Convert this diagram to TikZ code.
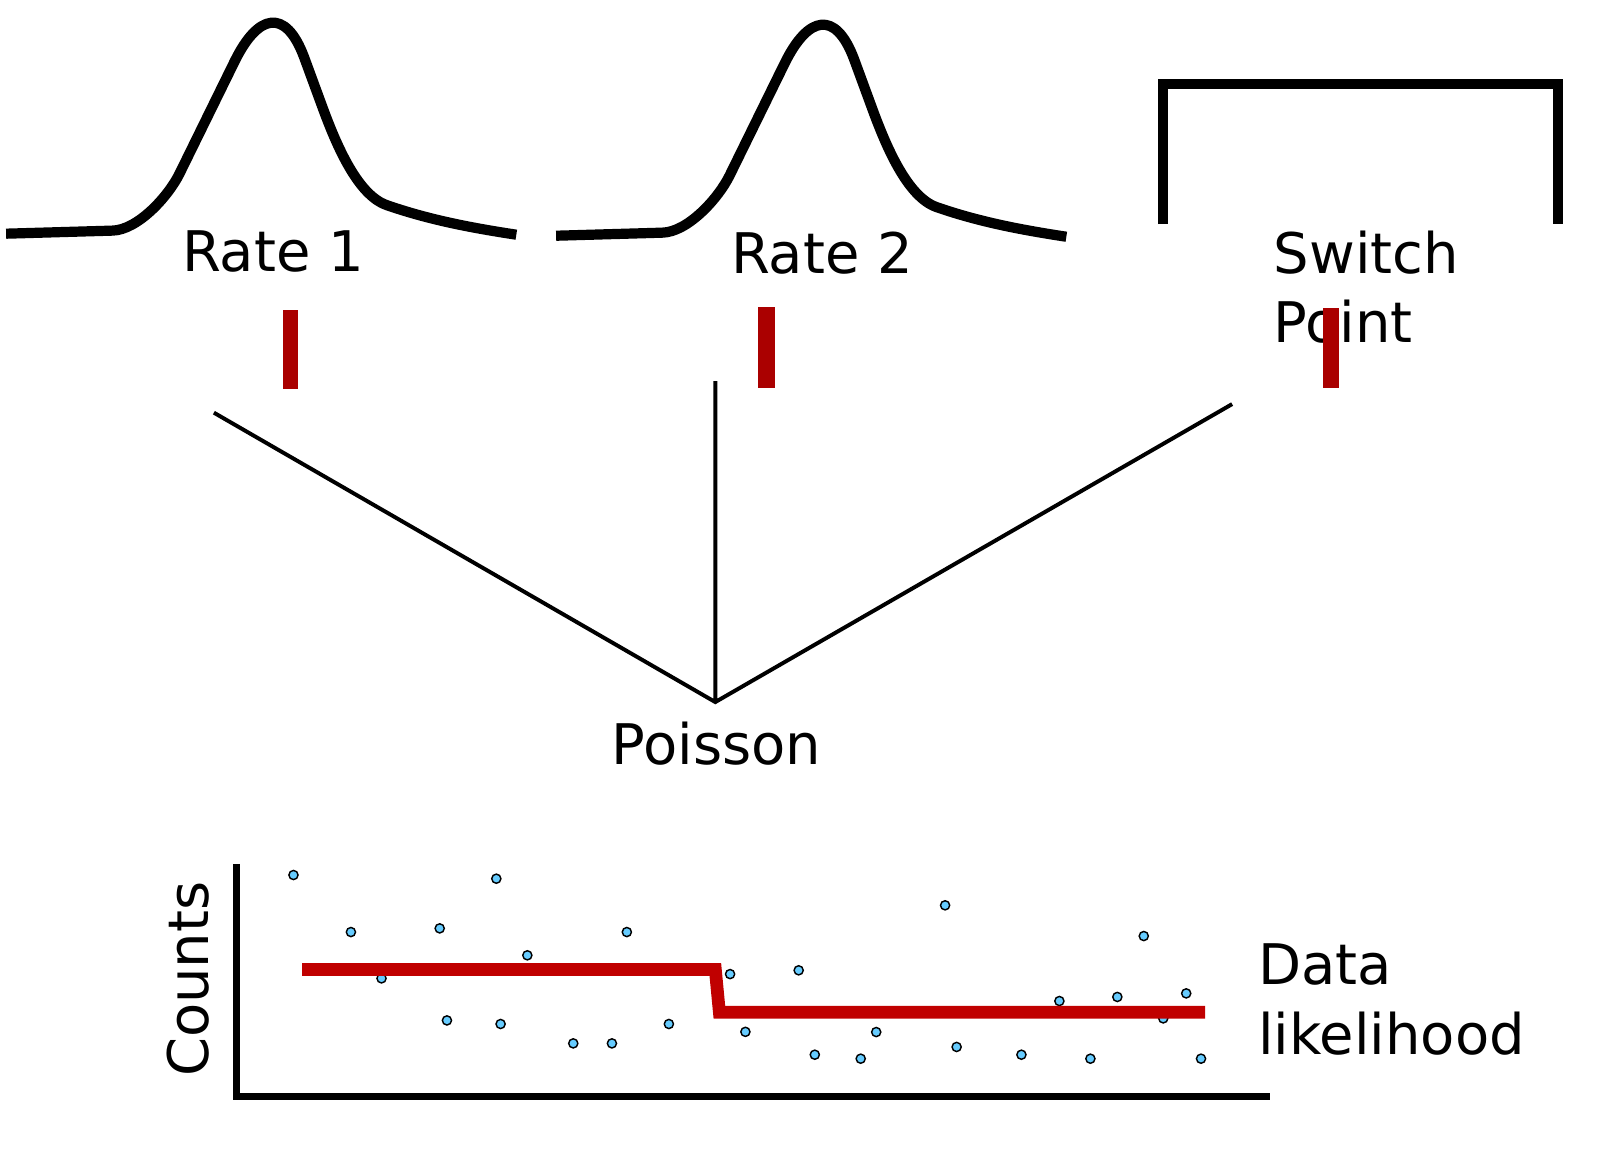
\documentclass[tikz,border=0pt]{standalone}
\usepackage{fontspec}
\setmainfont{DejaVu Sans}
\definecolor{barred}{RGB}{170,0,0}
\definecolor{stepred}{RGB}{192,0,0}
\definecolor{dotblue}{RGB}{102,204,255}

\begin{document}
\begin{tikzpicture}[x=0.01cm,y=-0.01cm,
                    every node/.style={inner sep=0pt,font=\fontsize{15.6}{19.3}\selectfont},
                    prior/.style={line width=0.1cm,line join=round},
                    link/.style={line width=1.1pt},
                    sample/.style={fill=barred},
                    axis/.style={line width=0.07cm,line join=miter},
                    rateline/.style={draw=stepred,line width=0.125cm,line join=miter},
                    obs/.style={draw=black,fill=dotblue,line width=0.4pt}]
    \useasboundingbox (0,0) rectangle (1568,1138);

    % priors
    \foreach \dx/\dy in {0/0,539/2}
        \draw[prior,shift={(\dx,\dy)}] (6,229) -- (110,226)
            .. controls (135,225.5) and (165,192.4) .. (176,170) -- (230,60)
            .. controls (252.9,13.4) and (279.8,7.3) .. (298,56) -- (316,105)
            .. controls (329.8,142.6) and (350.6,191.2) .. (379,201)
            .. controls (419.6,215.1) and (460,223) .. (506,230);
    \draw[prior,line join=miter] (1140,219.6) -- (1140,82) -- (1527,82) -- (1527,219.6);

    \node (rate1)  at (267.5,266) [anchor=base] {Rate 1};
    \node (rate2)  at (805.5,268) [anchor=base] {Rate 2};
    \node (switch) at (1247.5,336) [anchor=base west,align=left] {Switch\\Point};

    % samples
    \fill[sample] (277,304) rectangle (292.5,381.5);
    \fill[sample] (743,301) rectangle (759.5,380);
    \fill[sample] (1296.5,301.5) rectangle (1312,380);

    % links to the likelihood
    \coordinate (apex)  at (701,688);
    \coordinate (link1) at (209.6,404.4);
    \coordinate (link2) at (701,373.4);
    \coordinate (link3) at (1207.5,396);
    \draw[link] (link1) -- (apex) -- (link3)
                (link2) -- (apex);
    \node (poisson) at (702,749) [anchor=base] {Poisson};

    % data
    \foreach \x/\y in {287.6/857.5,343.9/913.4,373.9/958.8,430.9/909.8,438/1000,
                       486.4/861.1,490.6/1003.5,516.8/936.2,561.8/1022.5,599.7/1022.5,
                       614.3/913.4,655.5/1003.5,715.5/954.6,730.5/1011.2,782.7/950.9,
                       798.5/1033.6,843.5/1037.5,858.7/1011.4,926.2/887.2,937.5/1026,
                       1001/1033.6,1038.2/981,1068.6/1037.5,1095/977,1120.9/917.3,
                       1140/998,1162.5/973.5,1177/1037.5}
        \filldraw[obs] (\x,\y) circle[radius=4.5];
    \draw[rateline] (296,950) -- (701,950) -- (705,992) -- (1181,992);
    \draw[axis] (232,846.7) -- (232,1074.4) -- (1244.6,1074.4);

    \node (counts) at (204.5,959.6) [anchor=base,rotate=90] {Counts};
    \node (data)   at (1232.5,1033) [anchor=base west,align=left] {Data\\likelihood};
\end{tikzpicture}
\end{document}
